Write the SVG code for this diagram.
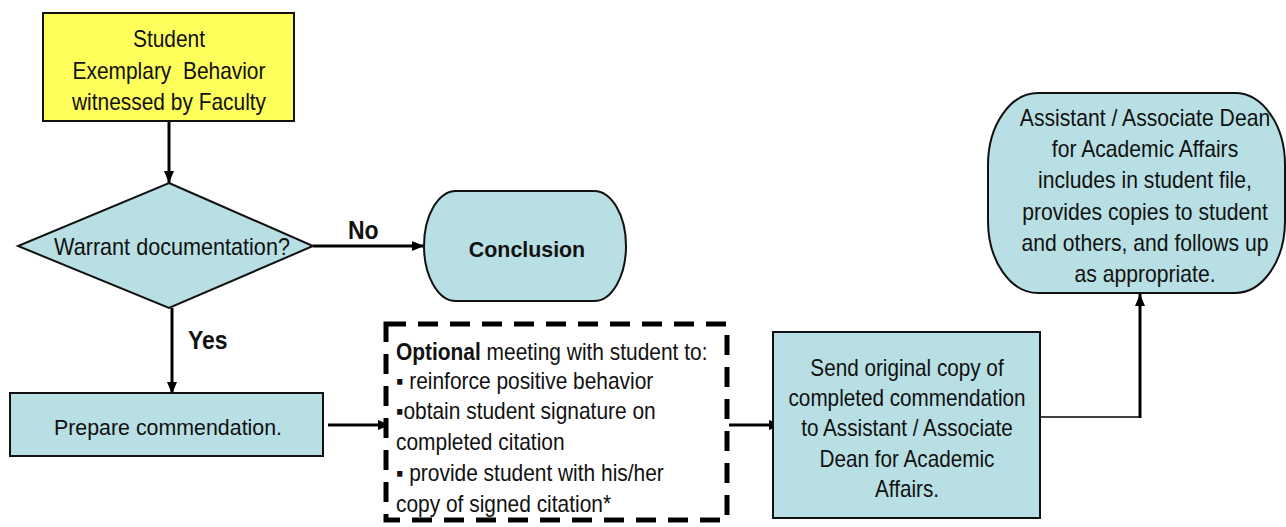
<svg xmlns="http://www.w3.org/2000/svg" width="1286" height="527" viewBox="0 0 1286 527">
<style>
text{font-family:"Liberation Sans",Arial,sans-serif;font-size:23px;fill:#111}
.c{text-anchor:middle}
.b{font-weight:bold}
.node{fill:#B8DFE3;stroke:#111;stroke-width:2}
.conn{fill:none;stroke:#000;stroke-width:3}
.thin{fill:none;stroke:#000;stroke-width:1.6}
</style>
<defs>
<marker id="ah" viewBox="0 0 12 10" refX="12" refY="5" markerWidth="12" markerHeight="10" markerUnits="userSpaceOnUse" orient="auto">
<path d="M0,0 L12,5 L0,10 Z" fill="#000"/>
</marker>
</defs>
<g id="connectors">
<line class="conn" x1="169" y1="121" x2="169" y2="183" marker-end="url(#ah)"/>
<line class="conn" x1="313" y1="246" x2="424" y2="246" marker-end="url(#ah)"/>
<line class="conn" x1="172" y1="308" x2="172" y2="394" marker-end="url(#ah)"/>
<line class="conn" x1="328" y1="425" x2="390" y2="425" marker-end="url(#ah)"/>
<line class="conn" x1="729" y1="425" x2="781" y2="425" marker-end="url(#ah)"/>
<line class="thin" x1="1040" y1="417" x2="1140" y2="417"/>
<line class="conn" x1="1140" y1="418" x2="1140" y2="294" marker-end="url(#ah)"/>
<g transform="translate(348 0) scale(0.92 1)"><text class="b" x="0" y="239" style="font-size:25px">No</text></g>
<g transform="translate(188 0) scale(0.92 1)"><text class="b" x="0" y="349" style="font-size:25px">Yes</text></g>
</g>
<g id="start">
<rect x="43" y="13" width="251" height="108" fill="#FFFF5C" stroke="#111" stroke-width="2"/>
<g transform="translate(169 0) scale(0.91 1)">
<text class="c" x="0" y="47">Student</text>
<text class="c" x="0" y="79" xml:space="preserve">Exemplary  Behavior</text>
<text class="c" x="0" y="110">witnessed by Faculty</text>
</g>
</g>
<g id="decision">
<polygon class="node" points="169,183 313,246 169,308 18,246"/>
<g transform="translate(172 0) scale(0.94 1)"><text class="c" x="0" y="255">Warrant documentation?</text></g>
</g>
<g id="conclusion">
<rect class="node" x="424" y="191" width="202" height="110" rx="32" ry="55"/>
<g transform="translate(527 0) scale(0.93 1)"><text class="c b" x="0" y="257">Conclusion</text></g>
</g>
<g id="prepare">
<rect class="node" x="10" y="393" width="313" height="63"/>
<g transform="translate(168 0) scale(0.93 1)"><text class="c" x="0" y="435">Prepare commendation.</text></g>
</g>
<g id="optional">
<rect x="386" y="324" width="341" height="196" fill="#fff" stroke="#000" stroke-width="5" stroke-dasharray="20,12"/>
<g transform="translate(396 0) scale(0.91 1)">
<text x="0" y="360"><tspan font-weight="bold">Optional</tspan> meeting with student to:</text>
<text x="0" y="389">▪ reinforce positive behavior</text>
<text x="0" y="419">▪obtain student signature on</text>
<text x="0" y="450">completed citation</text>
<text x="0" y="481">▪ provide student with his/her</text>
<text x="0" y="512">copy of signed citation*</text>
</g>
</g>
<g id="send">
<rect class="node" x="773" y="332" width="267" height="186"/>
<g transform="translate(907 0) scale(0.9 1)">
<text class="c" x="0" y="376">Send original copy of</text>
<text class="c" x="0" y="406">completed commendation</text>
<text class="c" x="0" y="436">to Assistant / Associate</text>
<text class="c" x="0" y="467">Dean for Academic</text>
<text class="c" x="0" y="497">Affairs.</text>
</g>
</g>
<g id="dean">
<rect class="node" x="988" y="93" width="297" height="200" rx="50" ry="72"/>
<g transform="translate(1145 0) scale(0.92 1)">
<text class="c" x="0" y="126">Assistant / Associate Dean</text>
<text class="c" x="0" y="157">for Academic Affairs</text>
<text class="c" x="0" y="188">includes in student file,</text>
<text class="c" x="0" y="220">provides copies to student</text>
<text class="c" x="0" y="251">and others, and follows up</text>
<text class="c" x="0" y="282">as appropriate.</text>
</g>
</g>
</svg>
